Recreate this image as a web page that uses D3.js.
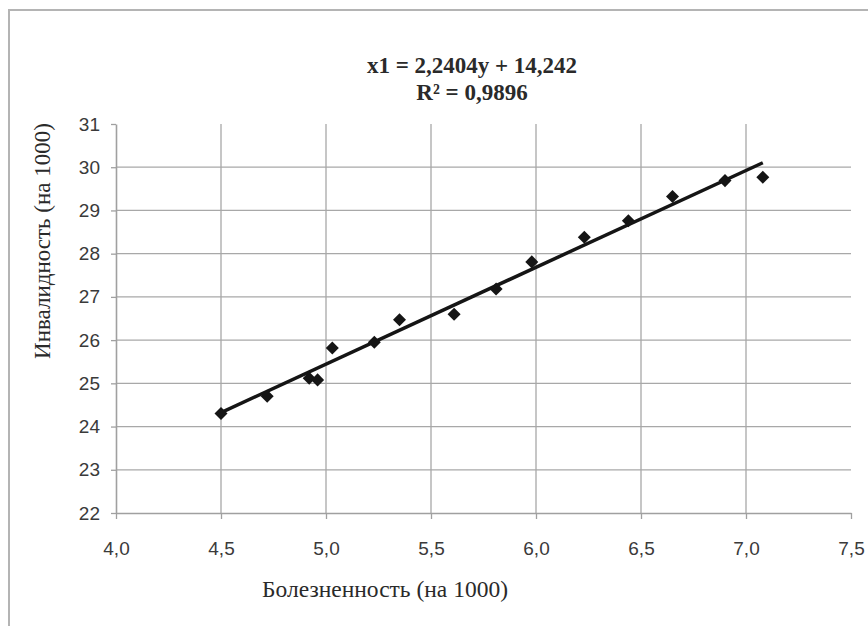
<!DOCTYPE html>
<html>
<head>
<meta charset="utf-8">
<script src="https://cdn.jsdelivr.net/npm/d3@7"></script>
<style>
  body { margin: 0; background: #fff; }
  svg { display: block; }
</style>
</head>
<body>
<div id="chart"></div>
<script>
/* data */
const morbidity = [4.50, 4.72, 4.92, 4.96, 5.03, 5.23, 5.35, 5.61, 5.81, 5.98, 6.23, 6.44, 6.65, 6.90, 7.08];
const disability = [24.30, 24.70, 25.12, 25.08, 25.82, 25.95, 26.47, 26.60, 27.18, 27.81, 28.38, 28.76, 29.32, 29.69, 29.77];

// trend as printed on the chart
const trendSlope = 2.2404;
const trendIntercept = 14.242;
const titleLines = ["x1 = 2,2404y + 14,242", "R² = 0,9896"];

const xTicks = [4.0, 4.5, 5.0, 5.5, 6.0, 6.5, 7.0, 7.5];
const yTicks = [22, 23, 24, 25, 26, 27, 28, 29, 30, 31];

const xLabel = "Болезненность (на 1000)";
const yLabel = "Инвалидность (на 1000)";

const W = 868, H = 626;
var margin = {top: 124, right: 17, bottom: 113, left: 116},
    width = W - margin.left - margin.right,
    height = H - margin.top - margin.bottom;

var svg = d3.select("#chart")
  .append("svg")
  .attr("width", W)
  .attr("height", H);

// outer frame (runs off the right and bottom edge)
svg.append("path")
  .attr("d", "M9," + (H + 5) + "V10H" + (W + 5))
  .attr("fill", "none")
  .attr("stroke", "#b4b4b4")
  .attr("stroke-width", 2);

var g = svg.append("g")
  .attr("transform", "translate(" + margin.left + "," + margin.top + ")");

var x = d3.scaleLinear().domain([4, 7.5]).range([0, width]);
var y = d3.scaleLinear().domain([22, 31]).range([height, 0]);

const fmt = d => d3.format(".1f")(d).replace(".", ",");

// grid
g.append("g")
  .selectAll("line")
  .data(yTicks.filter(d => d > 22 && d < 31))
  .enter().append("line")
    .attr("x1", 0).attr("x2", width)
    .attr("y1", d => y(d)).attr("y2", d => y(d))
    .attr("stroke", "#a8a8a8")
    .attr("stroke-width", 1.3);

g.append("g")
  .selectAll("line")
  .data(xTicks.filter(d => d > 4 && d < 7.5))
  .enter().append("line")
    .attr("x1", d => x(d)).attr("x2", d => x(d))
    .attr("y1", 0).attr("y2", height)
    .attr("stroke", "#a8a8a8")
    .attr("stroke-width", 1.3);

// axes
var xAxis = g.append("g")
  .attr("transform", "translate(0," + height + ")")
  .call(d3.axisBottom(x).tickValues(xTicks).tickFormat(fmt).tickSize(6).tickSizeOuter(0));

var yAxis = g.append("g")
  .call(d3.axisLeft(y).tickValues(yTicks).tickSize(5).tickSizeOuter(0));

[xAxis, yAxis].forEach(a => {
  a.select(".domain").attr("stroke", "#a0a0a0").attr("stroke-width", 1.6);
  a.selectAll(".tick line").attr("stroke", "#a0a0a0").attr("stroke-width", 1.3);
  a.selectAll("text")
    .attr("font-family", "'Liberation Sans', Arial, sans-serif")
    .attr("font-size", 19)
    .attr("fill", "#3a3a3a");
});
xAxis.selectAll("text").attr("dy", "1.75em");
yAxis.selectAll("text").attr("x", -16);

// trend line across the data range
var xr = d3.extent(morbidity);
g.append("line")
  .attr("x1", x(xr[0])).attr("y1", y(trendSlope * xr[0] + trendIntercept))
  .attr("x2", x(xr[1])).attr("y2", y(trendSlope * xr[1] + trendIntercept))
  .attr("stroke", "#151515")
  .attr("stroke-width", 3.5);

// markers
g.append("g")
  .selectAll("path")
  .data(morbidity.map((d, i) => [d, disability[i]]))
  .enter().append("path")
    .attr("d", d3.symbol(d3.symbolDiamond2, 108))
    .attr("transform", d => "translate(" + x(d[0]) + "," + y(d[1]) + ")")
    .attr("fill", "#151515");

// title (equation)
svg.append("g")
  .selectAll("text")
  .data(titleLines)
  .enter().append("text")
    .attr("x", 472)
    .attr("y", (d, i) => 73 + i * 27)
    .attr("text-anchor", "middle")
    .attr("font-family", "'Liberation Serif', 'Times New Roman', serif")
    .attr("font-weight", "bold")
    .attr("font-size", 23)
    .attr("fill", "#2a2a2a")
    .text(d => d);

// axis titles
svg.append("text")
  .attr("x", 385)
  .attr("y", 597)
  .attr("text-anchor", "middle")
  .attr("font-family", "'Liberation Serif', 'Times New Roman', serif")
  .attr("font-size", 23.5)
  .attr("fill", "#2a2a2a")
  .text(xLabel);

svg.append("text")
  .attr("transform", "translate(50,241) rotate(-90)")
  .attr("text-anchor", "middle")
  .attr("font-family", "'Liberation Serif', 'Times New Roman', serif")
  .attr("font-size", 23)
  .attr("fill", "#2a2a2a")
  .text(yLabel);
</script>
</body>
</html>
